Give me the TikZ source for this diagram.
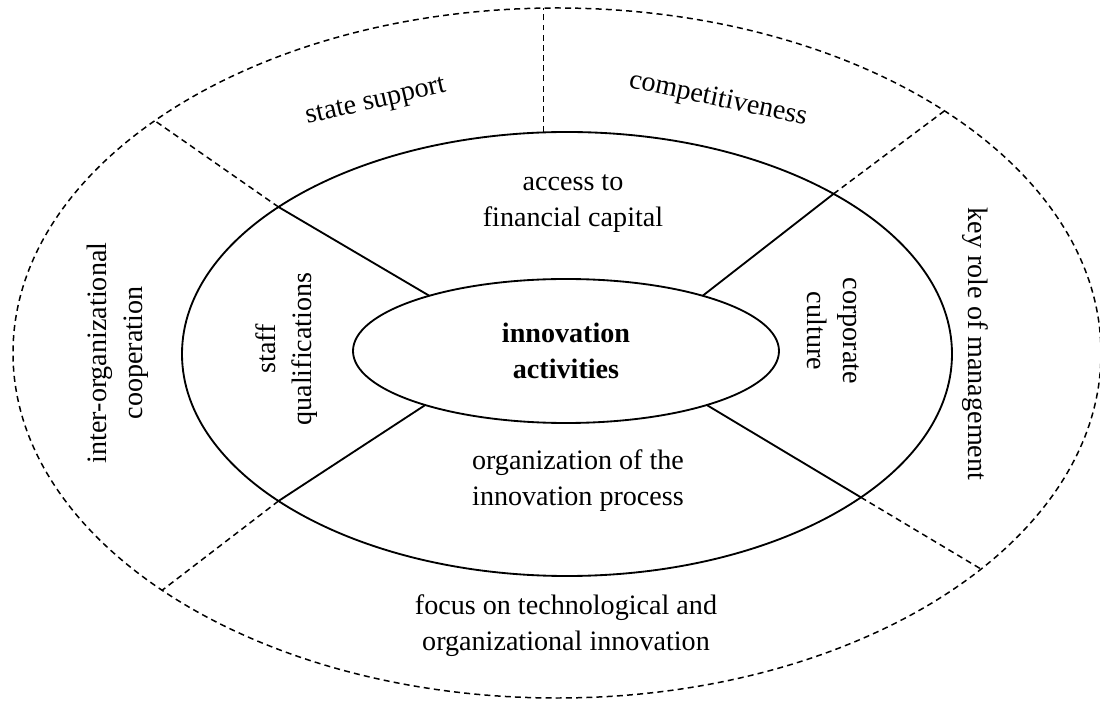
\documentclass[tikz,border=0pt]{standalone}
\usepackage{fontspec}
\setmainfont{Liberation Serif}
\usetikzlibrary{shapes.geometric}

\begin{document}
\begin{tikzpicture}[
    ring/.style={ellipse, draw, line width=1.05pt, outer sep=0pt, inner sep=0pt},
    cut/.style={line width=0.85pt, dash pattern=on 3.4pt off 2.4pt},
    lbl/.style={align=center, font=\fontsize{16}{20.5}\selectfont}]
    \useasboundingbox (-11,-7.06) rectangle (11,7.06);
    \node[ring, cut, minimum width=21.76cm, minimum height=13.8cm] (env) at (0.14,0) {};
    \node[ring, minimum width=15.4cm, minimum height=8.88cm] (firm) at (0.34,-0.02) {};
    \node[ring, lbl, minimum width=8.52cm, minimum height=2.88cm] (innov) at (0.32,0.04) {\textbf{innovation}\\\textbf{activities}};

    \draw[line width=1.05pt] (innov.158) -- (firm.153);
    \draw[line width=1.05pt] (innov.22) -- (firm.31);
    \draw[line width=1.05pt] (innov.201) -- (firm.207);
    \draw[line width=1.05pt] (innov.339) -- (firm.334);
    \draw[cut] (firm.153) -- (env.150);
    \draw[cut] (firm.31) -- (env.32);
    \draw[cut] (firm.207) -- (env.211);
    \draw[cut] (firm.334) -- (env.333);
    \draw[cut] (firm.96) -- (firm.96 |- env.north);

    \node[lbl] (fin) at (0.46,2.98) {access to\\financial capital};
    \node[lbl] (proc) at (0.56,-2.56) {organization of the\\innovation process};
    \node[lbl, rotate=90] (staff) at (-5.27,0.08) {staff\\qualifications};
    \node[lbl, rotate=-90] (cult) at (5.67,0.44) {corporate\\culture};
    \node[lbl, rotate=90] (coop) at (-8.65,0) {inter-organizational\\cooperation};
    \node[lbl, rotate=-90] (mgmt) at (8.5,0.18) {key role of management};
    \node[lbl, rotate=13] (state) at (-3.48,5.0) {state support};
    \node[lbl, rotate=-12] (comp) at (3.36,5.06) {competitiveness};
    \node[lbl] (focus) at (0.32,-5.46) {focus on technological and\\organizational innovation};
\end{tikzpicture}
\end{document}
